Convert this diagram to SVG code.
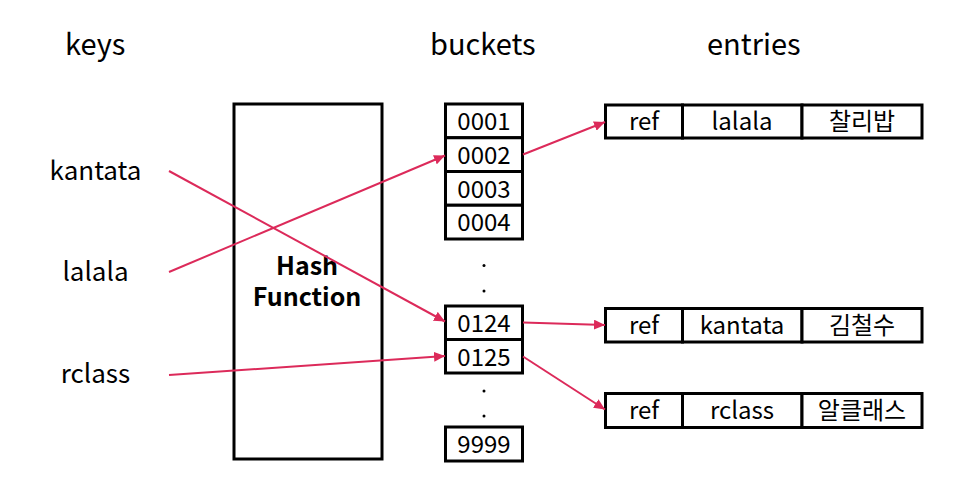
<svg xmlns="http://www.w3.org/2000/svg" width="972" height="499" viewBox="0 0 972 499">
  <style>
    text { font-family: "Noto Sans CJK KR", "Noto Sans", sans-serif; fill: #000; }
    .h { font-size: 29px; }
    .k { font-size: 26px; text-anchor: middle; }
    .c { font-size: 24px; text-anchor: middle; }
    .hf { font-size: 25px; font-weight: bold; text-anchor: middle; }
    .box { fill: #fff; stroke: #000; stroke-width: 3; }
    .dot { fill: #000; }
    .conn line { stroke: #dc2a5a; stroke-width: 2; marker-end: url(#ah); }
  </style>
  <defs>
    <marker id="ah" markerUnits="userSpaceOnUse" markerWidth="12" markerHeight="10" refX="11" refY="5" orient="auto">
      <path d="M0,0 L11,5 L0,10 Z" fill="#dc2a5a"/>
    </marker>
  </defs>
  <rect width="972" height="499" fill="#fff"/>

  <g id="headers">
    <text class="h" x="65" y="55">keys</text>
    <text class="h" x="430" y="55">buckets</text>
    <text class="h" x="707" y="55">entries</text>
  </g>

  <g id="key-kantata"><text class="k" x="95.5" y="180">kantata</text></g>
  <g id="key-lalala"><text class="k" x="95.5" y="281">lalala</text></g>
  <g id="key-rclass"><text class="k" x="95.5" y="383">rclass</text></g>

  <g id="hash-function">
    <rect class="box" x="234" y="104" width="148" height="355"/>
    <text class="hf" x="307" y="275"><tspan x="307" y="275">Hash</tspan><tspan x="307" y="306">Function</tspan></text>
  </g>

  <g id="buckets">
    <g id="b0001"><rect class="box" x="445.5" y="104" width="77" height="33.75"/><text class="c" x="484" y="130">0001</text></g>
    <g id="b0002"><rect class="box" x="445.5" y="137.75" width="77" height="33.75"/><text class="c" x="484" y="164">0002</text></g>
    <g id="b0003"><rect class="box" x="445.5" y="171.5" width="77" height="33.75"/><text class="c" x="484" y="197.5">0003</text></g>
    <g id="b0004"><rect class="box" x="445.5" y="205.25" width="77" height="33.75"/><text class="c" x="484" y="231">0004</text></g>
    <circle class="dot" cx="484" cy="265.5" r="1.5"/>
    <circle class="dot" cx="484" cy="291" r="1.5"/>
    <g id="b0124"><rect class="box" x="445.5" y="306" width="77" height="33.5"/><text class="c" x="484" y="332">0124</text></g>
    <g id="b0125"><rect class="box" x="445.5" y="339.5" width="77" height="33.5"/><text class="c" x="484" y="365.5">0125</text></g>
    <circle class="dot" cx="484" cy="391" r="1.5"/>
    <circle class="dot" cx="484" cy="416" r="1.5"/>
    <g id="b9999"><rect class="box" x="445.5" y="427" width="77" height="34"/><text class="c" x="484" y="453">9999</text></g>
  </g>

  <g id="entry-lalala">
    <rect class="box" x="605.5" y="105" width="77" height="33"/>
    <rect class="box" x="682.5" y="105" width="119.5" height="33"/>
    <rect class="box" x="802" y="105" width="120" height="33"/>
    <text class="c" x="644" y="130">ref</text>
    <text class="c" x="742" y="130">lalala</text>
    <text class="c" x="862" y="130">찰리밥</text>
  </g>

  <g id="entry-kantata">
    <rect class="box" x="605.5" y="308.5" width="77" height="33.5"/>
    <rect class="box" x="682.5" y="308.5" width="119.5" height="33.5"/>
    <rect class="box" x="802" y="308.5" width="120" height="33.5"/>
    <text class="c" x="644" y="334">ref</text>
    <text class="c" x="742" y="334">kantata</text>
    <text class="c" x="862" y="334">김철수</text>
  </g>

  <g id="entry-rclass">
    <rect class="box" x="605.5" y="393.5" width="77" height="34"/>
    <rect class="box" x="682.5" y="393.5" width="119.5" height="34"/>
    <rect class="box" x="802" y="393.5" width="120" height="34"/>
    <text class="c" x="644" y="419">ref</text>
    <text class="c" x="742" y="419">rclass</text>
    <text class="c" x="862" y="419">알클래스</text>
  </g>

  <g id="connectors" class="conn">
    <line x1="169" y1="171" x2="445" y2="321.5"/>
    <line x1="169" y1="272" x2="445" y2="155.5"/>
    <line x1="169" y1="375" x2="445" y2="356"/>
    <line x1="523" y1="154.5" x2="605" y2="122"/>
    <line x1="523" y1="322.5" x2="605" y2="325"/>
    <line x1="523" y1="356.5" x2="605" y2="409.5"/>
  </g>
</svg>
